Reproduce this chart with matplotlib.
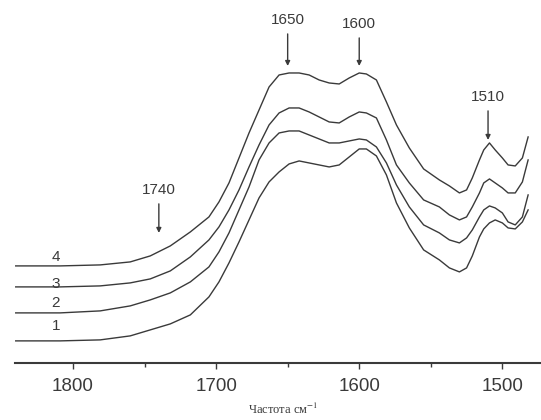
import numpy as np
from matplotlib import pyplot as plt
from matplotlib.ticker import MultipleLocator

# wavenumber, cm-1
wavenumber = [1840, 1809, 1781, 1760, 1746, 1732, 1718, 1705, 1698, 1691,
              1684, 1677, 1670, 1663, 1656, 1649, 1642, 1635, 1628, 1621,
              1614, 1607, 1600, 1595, 1588, 1581, 1574, 1565, 1555, 1544,
              1537, 1530, 1525, 1521, 1516, 1513, 1509, 1505, 1500, 1496,
              1491, 1486, 1482]

# absorbance, arbitrary units, curves offset as in the figure
curve_1 = [0.22, 0.22, 0.23, 0.27, 0.33, 0.39, 0.48, 0.66, 0.81, 1.00,
           1.21, 1.43, 1.65, 1.81, 1.91, 1.99, 2.02, 2.00, 1.98, 1.96,
           1.98, 2.06, 2.14, 2.14, 2.07, 1.88, 1.60, 1.35, 1.13, 1.03,
           0.95, 0.91, 0.95, 1.07, 1.26, 1.34, 1.40, 1.43, 1.40, 1.35,
           1.34, 1.41, 1.53]
curve_2 = [0.50, 0.50, 0.52, 0.57, 0.63, 0.70, 0.81, 0.96, 1.11, 1.30,
           1.53, 1.76, 2.03, 2.20, 2.30, 2.32, 2.32, 2.28, 2.24, 2.20,
           2.20, 2.22, 2.24, 2.23, 2.16, 2.00, 1.78, 1.56, 1.38, 1.30,
           1.23, 1.20, 1.25, 1.33, 1.46, 1.53, 1.57, 1.55, 1.50, 1.41,
           1.38, 1.46, 1.68]
curve_3 = [0.76, 0.76, 0.77, 0.80, 0.84, 0.92, 1.06, 1.23, 1.36, 1.53,
           1.73, 1.96, 2.18, 2.38, 2.50, 2.55, 2.55, 2.51, 2.46, 2.41,
           2.40, 2.46, 2.51, 2.50, 2.45, 2.23, 1.98, 1.80, 1.63, 1.56,
           1.48, 1.43, 1.46, 1.56, 1.70, 1.80, 1.84, 1.80, 1.75, 1.70,
           1.70, 1.81, 2.03]
curve_4 = [0.97, 0.97, 0.98, 1.01, 1.07, 1.17, 1.31, 1.46, 1.61, 1.80,
           2.05, 2.30, 2.53, 2.76, 2.88, 2.90, 2.90, 2.88, 2.83, 2.80,
           2.79, 2.85, 2.90, 2.89, 2.83, 2.61, 2.38, 2.15, 1.94, 1.83,
           1.77, 1.70, 1.73, 1.85, 2.03, 2.13, 2.20, 2.13, 2.05, 1.98,
           1.97, 2.05, 2.26]

curves = [curve_1, curve_2, curve_3, curve_4]
curve_names = ["1", "2", "3", "4"]
# where the curve numbers sit (wavenumber, absorbance)
name_pos = [(1812, 0.37), (1812, 0.60), (1812, 0.79), (1812, 1.06)]

# marked bands: (wavenumber, label height, arrow tip)
bands = [(1740, 1.66, 1.30), (1650, 3.36, 2.97), (1600, 3.32, 2.97), (1510, 2.59, 2.23)]

plt.rcParams['font.family'] = ['Liberation Sans', 'DejaVu Sans']
plt.rcParams['mathtext.fontset'] = 'stix'

fig = plt.figure(figsize=(5.41, 4.20), dpi=100)
ax = fig.add_axes([0.028, 0.136, 0.972, 0.864])

ink = '#3a3a3a'
for c in curves:
    ax.plot(wavenumber, c, color=ink, lw=1.0, solid_joinstyle='round')

for name, (wx, wy) in zip(curve_names, name_pos):
    ax.text(wx, wy, name, fontsize=11, color=ink, ha='center', va='center')

for w, ty, tip in bands:
    ax.annotate(str(w), xy=(w, tip), xytext=(w, ty), fontsize=11, color=ink,
                ha='center', va='bottom',
                arrowprops=dict(arrowstyle='-|>', color=ink, lw=1.0,
                                mutation_scale=7, shrinkA=3, shrinkB=0))

ax.set_xlim(1840.4, 1473)
ax.set_ylim(0, 3.63)
ax.xaxis.set_major_locator(MultipleLocator(100))
ax.xaxis.set_minor_locator(MultipleLocator(50))
ax.tick_params(axis='x', which='major', direction='out', length=4, width=1.0,
               colors=ink, labelsize=13.5, pad=7)
ax.tick_params(axis='x', which='minor', direction='out', length=3, width=1.0, colors=ink)
ax.set_yticks([])
for side in ['left', 'right', 'top']:
    ax.spines[side].set_visible(False)
ax.spines['bottom'].set_color(ink)
ax.spines['bottom'].set_linewidth(1.5)

fig.text(0.523, 0.026, 'Частота см$^{-1}$', fontsize=9, color=ink,
         family=['Liberation Serif', 'DejaVu Serif'], ha='center', va='center')

fig.savefig('out.png', dpi=100)
